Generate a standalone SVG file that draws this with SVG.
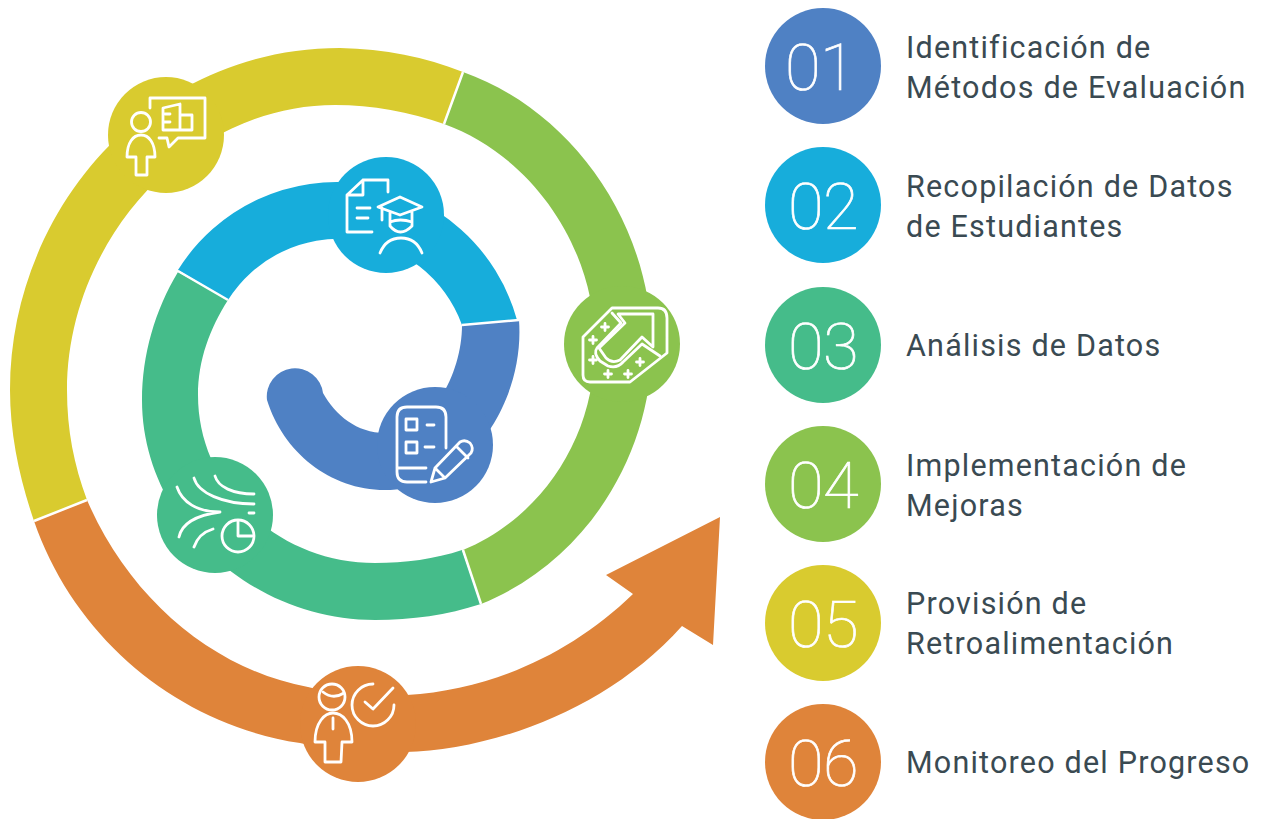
<svg xmlns="http://www.w3.org/2000/svg" width="1263" height="819" viewBox="0 0 1263 819">
<style>
.ic{fill:none;stroke:#fff;stroke-width:2.8;stroke-linecap:round;stroke-linejoin:round}
.sep{stroke:#fff;stroke-width:2.5}
.num{font-family:Roboto,"Liberation Sans",sans-serif;font-weight:100;font-size:65px;fill:#fff;stroke:#fff;stroke-width:.7px;text-anchor:middle;letter-spacing:-.5px}
.lab{font-family:Roboto,"Liberation Sans",sans-serif;font-size:30.5px;fill:#3a4a52;letter-spacing:1.2px}
.c1{fill:#4f81c4}.c2{fill:#17addb}.c3{fill:#45bc8a}.c4{fill:#8bc34e}.c5{fill:#d9cb2f}.c6{fill:#df843a}
</style>
<defs>
<path id="sp" d="M0-3.5V3.5M-3.5 0H3.5" class="ic"/>
</defs>
<rect width="1263" height="819" fill="#fff"/>
<g id="connectors">
<path class="c1" d="M519,320C525,400 470,490 385,490C330,490 283,452 267,400A28,28 0 0 1 323,393C335,415 357,433 385,433C430,433 462,375 462,325Z"/>
<path class="c2" d="M178,270A187,187 0 0 1 517,320L462,325A131,131 0 0 0 228,300Z"/>
<path class="c3" d="M178,272C155,310 142,355 142,400C142,520 250,620 375,620C412,620 447,615 481,604L462,550C435,559 405,563 375,563C280,563 198,490 198,395C198,360 210,328 228,300Z"/>
<path class="c4" d="M463,72C570,110 650,220 652,345C652,450 590,560 481,604L463,550C540,518 595,440 595,345C595,245 530,155 444,124Z"/>
<path class="c5" d="M463,72C425,57 385,49 340,48C150,48 10,210 10,390C10,435 20,480 34,521L87,500C74,465 67,430 67,390C67,240 190,105 335,105C372,105 410,112 444,124Z"/>
<path class="c6" d="M34,521C75,640 180,725 300,743C335,752 370,755 405,752C490,750 605,712 682,626L713,645L720,517L606,575L633,594C570,655 490,690 407,695C375,697 340,695 308,687C215,670 130,600 87,500Z"/>
<path class="sep" d="M463,72L444,124M34,521L87,500M481,604L463,550M178,271L228,300M519,320L462,325"/>
</g>
<g id="node-blue">
<circle class="c1" cx="435" cy="445" r="58"/>
<path class="ic" d="M446,448V417Q446,407 436,407H407Q397,407 397,417V472Q397,482 407,482H426M398,468H426M427,425H434M425,447H434"/>
<rect class="ic" x="406" y="419" width="11" height="11"/><rect class="ic" x="406" y="442" width="11" height="11"/>
<path class="ic" d="M431,482L435,468L460,442Q465,439 470,443Q474,448 471,453L445,478ZM435,468L445,478M456,446L468,458"/>
</g>
<g id="node-cyan">
<circle class="c2" cx="386" cy="215" r="58"/>
<path class="ic" d="M388,192V180H363L347,195V232H372M363,180V195H347M357,208H370M357,218H368"/>
<path class="ic" d="M378,207L400,197L422,207L400,215ZM382,208V220M390,212V226Q400,238 412,226V212M390,222Q400,218 412,222M380,253C384,243 392,238 401,238C410,238 418,243 422,253"/>
</g>
<g id="node-teal">
<circle class="c3" cx="215" cy="515" r="58"/>
<path class="ic" d="M177,487C182,502 197,512 220,512C198,515 182,523 179,537M194,478C198,493 223,504 254,504M215,476C218,487 233,494 254,494M213,529C203,532 197,538 194,547M249,513H254"/>
<circle class="ic" cx="238" cy="536" r="16"/>
<path class="ic" d="M238,522V536H252"/>
</g>
<g id="node-green">
<circle class="c4" cx="622" cy="344" r="58"/>
<path class="ic" d="M612,308H658Q667,308 667,318V353L630,382H590Q583,382 583,375V337Z"/>
<path class="ic" d="M618,314H653V347L642,337L620,360Q612,364 606,358L599,348L625,323Z"/>
<path class="ic" d="M612,313L621,323L597,348Q593,353 600,361L608,366Q617,369 623,362L642,344L660,356"/>
<use href="#sp" x="605" y="327"/><use href="#sp" x="593" y="340"/><use href="#sp" x="593" y="360"/><use href="#sp" x="608" y="374"/><use href="#sp" x="628" y="374"/><use href="#sp" x="640" y="362"/>
</g>
<g id="node-yellow">
<circle class="c5" cx="166" cy="135" r="58"/>
<circle class="ic" cx="141" cy="122" r="9.5"/>
<path class="ic" d="M136,175V157H127C127,143 133,135 141,135C149,135 155,143 155,157H147V175Z"/>
<path class="ic" d="M150,108V98H205V138H178L169,147L167,138H159"/>
<path class="ic" d="M163,130V108L180,104V130ZM180,115H192V130H180M165,114H170M165,122H170"/>
</g>
<g id="node-orange">
<circle class="c6" cx="358" cy="724" r="58"/>
<circle class="ic" cx="332" cy="697" r="13"/>
<path class="ic" d="M323,692Q333,700 344,693"/>
<path class="ic" d="M325,762H341L342,742H352C352,722 342,713 333,713C325,713 315,722 315,742H325ZM333,718V729"/>
<path class="ic" d="M373,684A21,21 0 1 0 394,705M365,702L373,709L393,688"/>
</g>
<g id="legend-1"><circle class="c1" cx="823" cy="66" r="58"/><text class="num" x="820" y="90">01</text><text class="lab" x="906" y="58">Identificación de</text><text class="lab" x="906" y="98">Métodos de Evaluación</text></g>
<g id="legend-2"><circle class="c2" cx="823" cy="205" r="58"/><text class="num" x="823" y="229">02</text><text class="lab" x="906" y="197">Recopilación de Datos</text><text class="lab" x="906" y="237">de Estudiantes</text></g>
<g id="legend-3"><circle class="c3" cx="823" cy="345" r="58"/><text class="num" x="823" y="369">03</text><text class="lab" x="906" y="356">Análisis de Datos</text></g>
<g id="legend-4"><circle class="c4" cx="823" cy="484" r="58"/><text class="num" x="823" y="508">04</text><text class="lab" x="906" y="476">Implementación de</text><text class="lab" x="906" y="516">Mejoras</text></g>
<g id="legend-5"><circle class="c5" cx="823" cy="623" r="58"/><text class="num" x="823" y="647">05</text><text class="lab" x="906" y="614">Provisión de</text><text class="lab" x="906" y="654">Retroalimentación</text></g>
<g id="legend-6"><circle class="c6" cx="823" cy="762" r="58"/><text class="num" x="823" y="786">06</text><text class="lab" x="906" y="773">Monitoreo del Progreso</text></g>
</svg>
